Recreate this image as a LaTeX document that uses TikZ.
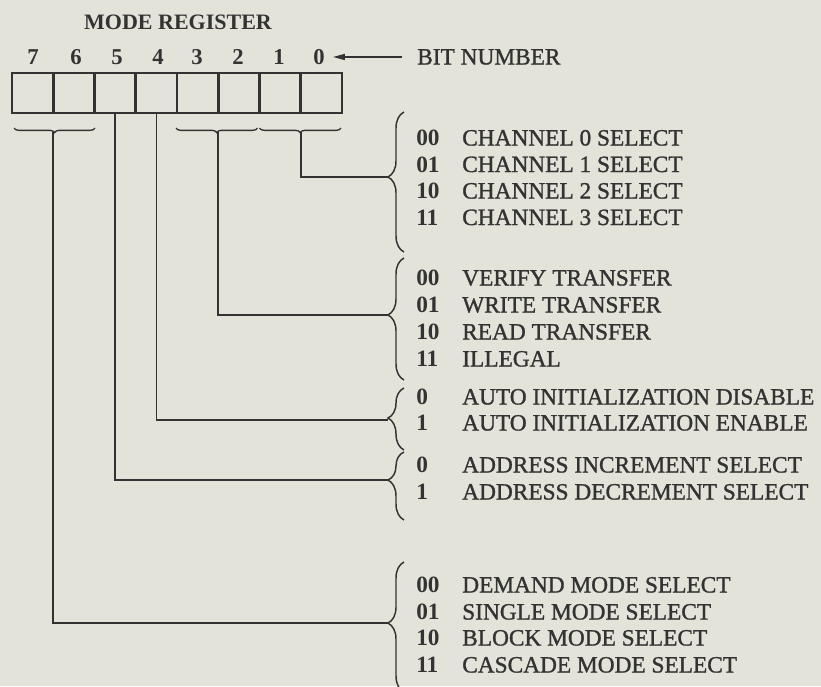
\documentclass[tikz,border=0pt]{standalone}
\usepackage{fontspec}
\setmainfont{Liberation Serif}
\newfontfamily\semib[FakeBold=1.2]{Liberation Serif}
\usetikzlibrary{decorations.pathreplacing,arrows.meta}
\definecolor{bg}{HTML}{E4E3D9}
\definecolor{ink}{HTML}{333333}
\begin{document}
\begin{tikzpicture}[x=0.75pt,y=-0.75pt,
  cell/.style={draw=ink,line width=2pt,minimum width=30.94pt,minimum height=30pt,inner sep=0pt,outer sep=0pt},
  lbl/.style={font=\fontsize{17.5}{20}\selectfont\semib,text=ink,inner sep=0pt,anchor=base west},
  code/.style={lbl,font=\fontsize{17.5}{20}\selectfont\bfseries},
  bitlbl/.style={font=\fontsize{17}{20}\selectfont\bfseries,text=ink,inner sep=0pt,anchor=base},
  title/.style={font=\fontsize{16.5}{20}\selectfont\bfseries,text=ink,inner sep=0pt,anchor=base},
  rbrace/.style={draw=ink,line width=1.1pt,decorate,decoration={brace,amplitude=12pt,aspect=#1}},
  sbrace/.style={draw=ink,line width=1pt,decorate,decoration={brace,amplitude=3.5pt}},
  conn/.style={draw=ink,line width=1.2pt},
  arr/.style={draw=ink,line width=1.2pt,-{Triangle[length=9pt,width=4.5pt]}}]
\fill[bg] (0,0) rectangle (821,686);
\useasboundingbox (0,0) rectangle (821,686);

% title
\node[title] (title) at (178,29.5) {MODE REGISTER};

% register cells and bit numbers
\foreach \b [count=\i from 0] in {7,6,5,4,3,2,1,0} {
  \node[cell] (c\b) at ({32.63+41.25*\i},93) {};
}
\foreach \b/\x in {7/33,6/76,5/117,4/158,3/197,2/238,1/279,0/319} {
  \node[bitlbl] (bn\b) at (\x,64.5) {\b};
}
\node[lbl] (bitnum) at (417,64.5) {BIT NUMBER};
\draw[arr] ([xshift=-11pt]bitnum.west) -- ([xshift=6pt]bitnum.west -| bn0.east);

% small braces under the register
\draw[sbrace] (95,128) -- (14,128);
\draw[sbrace] (257.5,128) -- (176,128);
\draw[sbrace] (341,128) -- (259.5,128);
\coordinate (t76) at (53.25,132);
\coordinate (t32) at (218.25,132);
\coordinate (t10) at (300.75,132);

% right braces
\draw[rbrace=0.536] (404,252) -- (404,112);
\draw[rbrace=0.533] (404,380) -- (404,258);
\draw[rbrace=0.516] (404,450) -- (404,388);
\draw[rbrace=0.588] (404,520) -- (404,452);
\draw[rbrace=0.53] (404,692) -- (404,562);
\coordinate (tipA) at (388,177);
\coordinate (tipB) at (388,315);
\coordinate (tipC) at (388,420);
\coordinate (tipD) at (388,480);
\coordinate (tipE) at (388,623);

% connectors
\draw[conn] (t10) |- (tipA);
\draw[conn] (t32) |- (tipB);
\draw[conn] (c4.south) |- (tipC);
\draw[conn] (c5.south) |- (tipD);
\draw[conn] (t76) |- (tipE);

% channel select
\node[code] (a0) at (416,145.5) {00}; \node[lbl] (ad0) at (462,145.5) {CHANNEL 0 SELECT};
\node[code] (a1) at (416,172)   {01}; \node[lbl] (ad1) at (462,172)   {CHANNEL 1 SELECT};
\node[code] (a2) at (416,198.5) {10}; \node[lbl] (ad2) at (462,198.5) {CHANNEL 2 SELECT};
\node[code] (a3) at (416,225)   {11}; \node[lbl] (ad3) at (462,225)   {CHANNEL 3 SELECT};

% transfer
\node[code] (b0) at (416,285.5) {00}; \node[lbl] (bd0) at (462,285.5) {VERIFY TRANSFER};
\node[code] (b1) at (416,312.5) {01}; \node[lbl] (bd1) at (462,312.5) {WRITE TRANSFER};
\node[code] (b2) at (416,339.5) {10}; \node[lbl] (bd2) at (462,339.5) {READ TRANSFER};
\node[code] (b3) at (416,366.5) {11}; \node[lbl] (bd3) at (462,366.5) {ILLEGAL};

% auto init
\node[code] (d0) at (416,404.5) {0}; \node[lbl] (dd0) at (462,404.5) {AUTO INITIALIZATION DISABLE};
\node[code] (d1) at (416,430.5) {1}; \node[lbl] (dd1) at (462,430.5) {AUTO INITIALIZATION ENABLE};

% address
\node[code] (e0) at (416,472.5) {0}; \node[lbl] (ed0) at (462,472.5) {ADDRESS INCREMENT SELECT};
\node[code] (e1) at (416,499.5) {1}; \node[lbl] (ed1) at (462,499.5) {ADDRESS DECREMENT SELECT};

% mode
\node[code] (f0) at (416,592.5) {00}; \node[lbl] (fd0) at (462,592.5) {DEMAND MODE SELECT};
\node[code] (f1) at (416,619.5) {01}; \node[lbl] (fd1) at (462,619.5) {SINGLE MODE SELECT};
\node[code] (f2) at (416,645.5) {10}; \node[lbl] (fd2) at (462,645.5) {BLOCK MODE SELECT};
\node[code] (f3) at (416,672.5) {11}; \node[lbl] (fd3) at (462,672.5) {CASCADE MODE SELECT};
\end{tikzpicture}
\end{document}
